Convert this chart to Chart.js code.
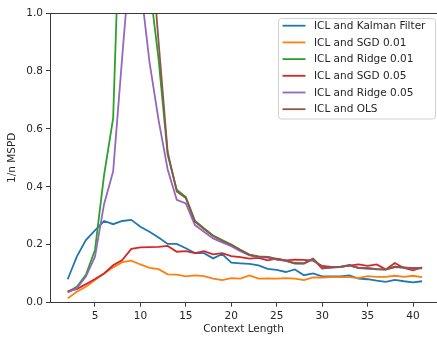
<!DOCTYPE html>
<html>
<head>
<meta charset="utf-8">
<script src="https://cdn.jsdelivr.net/npm/chart.js@4.4.1/dist/chart.umd.min.js"></script>
<style>
  html, body { margin: 0; padding: 0; background: #fff; }
  #wrap { width: 437px; height: 337px; }
</style>
</head>
<body>
<div id="wrap"><canvas id="myChart" width="437" height="337"></canvas></div>
<script>
const contextLength = [2, 3, 4, 5, 6, 7, 8, 9, 10, 11, 12, 13, 14, 15, 16, 17, 18, 19, 20, 21,
                       22, 23, 24, 25, 26, 27, 28, 29, 30, 31, 32, 33, 34, 35, 36, 37, 38, 39, 40, 41];

const kalman = [0.081, 0.159, 0.216, 0.250, 0.282, 0.271, 0.282, 0.286, 0.262, 0.245,
                0.225, 0.203, 0.203, 0.188, 0.171, 0.171, 0.153, 0.168, 0.138, 0.136,
                0.134, 0.129, 0.117, 0.113, 0.106, 0.115, 0.095, 0.101, 0.091, 0.091,
                0.091, 0.094, 0.083, 0.081, 0.076, 0.072, 0.079, 0.074, 0.070, 0.074];
const sgd001 = [0.015, 0.038, 0.055, 0.078, 0.101, 0.122, 0.140, 0.145, 0.132, 0.120,
                0.116, 0.098, 0.097, 0.091, 0.094, 0.092, 0.083, 0.078, 0.085, 0.083,
                0.094, 0.083, 0.084, 0.083, 0.085, 0.083, 0.078, 0.087, 0.087, 0.088,
                0.088, 0.088, 0.085, 0.092, 0.089, 0.089, 0.093, 0.089, 0.093, 0.088];
const ridge001 = [0.037, 0.055, 0.096, 0.182, 0.440, 0.637, 1.600, 2.500, 2.500, 1.100,
                  0.840, 0.510, 0.390, 0.365, 0.283, 0.257, 0.232, 0.216, 0.201, 0.183,
                  0.166, 0.160, 0.158, 0.151, 0.145, 0.137, 0.136, 0.151, 0.120, 0.122,
                  0.124, 0.129, 0.120, 0.119, 0.116, 0.115, 0.124, 0.121, 0.119, 0.120];
const sgd005 = [0.040, 0.047, 0.064, 0.082, 0.101, 0.129, 0.147, 0.186, 0.191, 0.192,
                0.193, 0.196, 0.176, 0.178, 0.171, 0.178, 0.167, 0.171, 0.161, 0.157,
                0.152, 0.155, 0.146, 0.152, 0.146, 0.149, 0.148, 0.145, 0.127, 0.124,
                0.124, 0.128, 0.132, 0.127, 0.132, 0.115, 0.137, 0.120, 0.112, 0.122];
const ridge005 = [0.035, 0.050, 0.090, 0.159, 0.340, 0.453, 0.850, 1.230, 1.100, 0.830,
                  0.630, 0.460, 0.355, 0.343, 0.268, 0.245, 0.222, 0.208, 0.195, 0.178,
                  0.163, 0.157, 0.156, 0.149, 0.144, 0.135, 0.135, 0.150, 0.118, 0.121,
                  0.123, 0.129, 0.119, 0.118, 0.115, 0.114, 0.123, 0.121, 0.118, 0.119];
const ols = [6.0, 6.0, 6.0, 6.0, 6.0, 6.0, 6.0, 6.0, 4.0, 1.300,
             0.900, 0.520, 0.384, 0.361, 0.280, 0.254, 0.230, 0.214, 0.200, 0.182,
             0.165, 0.159, 0.158, 0.150, 0.145, 0.136, 0.136, 0.152, 0.119, 0.122,
             0.124, 0.130, 0.120, 0.119, 0.116, 0.115, 0.124, 0.122, 0.119, 0.120];

const seriesNames = ['ICL and Kalman Filter', 'ICL and SGD 0.01', 'ICL and Ridge 0.01',
                     'ICL and SGD 0.05', 'ICL and Ridge 0.05', 'ICL and OLS'];
const seriesColors = ['#1f77b4', '#ff7f0e', '#2ca02c', '#d62728', '#9467bd', '#8c564b'];
const allSeries = [kalman, sgd001, ridge001, sgd005, ridge005, ols];

const xTicks = [5, 10, 15, 20, 25, 30, 35, 40];
const yTicks = [0, 0.2, 0.4, 0.6, 0.8, 1.0];

const FONT = "'DejaVu Sans', sans-serif";
const TEXT = '#262626';
const AXIS = '#3a3a3a';

// top spine + legend box inside the plot
const extras = {
    id: 'extras',
    afterDraw(chart) {
        const ctx = chart.ctx;
        const a = chart.chartArea;
        ctx.save();
        ctx.strokeStyle = AXIS;
        ctx.lineWidth = 1;
        ctx.beginPath();
        ctx.moveTo(a.left, a.top + 0.5);
        ctx.lineTo(a.right, a.top + 0.5);
        ctx.stroke();

        const bx = 278.5, by = 18.5, bw = 157, bh = 100.5;
        ctx.fillStyle = 'rgba(255,255,255,0.8)';
        ctx.strokeStyle = '#d0d0d0';
        ctx.beginPath();
        ctx.roundRect(bx, by, bw, bh, 3);
        ctx.fill();
        ctx.stroke();

        ctx.font = '10.5px ' + FONT;
        ctx.textBaseline = 'middle';
        ctx.textAlign = 'left';
        chart.data.datasets.forEach((ds, i) => {
            const yy = 25.7 + i * 16.7;
            ctx.strokeStyle = ds.borderColor;
            ctx.lineWidth = 1.8;
            ctx.beginPath();
            ctx.moveTo(282.5, yy);
            ctx.lineTo(305.5, yy);
            ctx.stroke();
            ctx.fillStyle = TEXT;
            ctx.fillText(ds.label, 314, yy + 0.5);
        });
        ctx.restore();
    }
};

document.addEventListener("DOMContentLoaded", function() {
    const ctx = document.getElementById('myChart').getContext('2d');

    const datasets = allSeries.map((vals, i) => ({
        label: seriesNames[i],
        data: contextLength.map((c, j) => ({ x: c, y: vals[j] })),
        borderColor: seriesColors[i],
        backgroundColor: seriesColors[i],
        borderWidth: 1.8,
        pointRadius: 0,
        tension: 0,
        fill: false,
        clip: 0,
        order: allSeries.length - i
    }));

    new Chart(ctx, {
        type: 'line',
        data: { datasets: datasets },
        options: {
            responsive: false,
            animation: false,
            devicePixelRatio: 1,
            layout: { padding: { top: 13, right: 0, left: 0, bottom: 0 } },
            plugins: {
                legend: { display: false },
                tooltip: { enabled: false }
            },
            scales: {
                x: {
                    type: 'linear',
                    min: 0.05,
                    max: 42.64,
                    afterBuildTicks: (s) => { s.ticks = xTicks.map(v => ({ value: v })); },
                    afterFit: (s) => { s.height = 34.3; },
                    grid: { drawOnChartArea: false, drawTicks: true, tickLength: 4, tickColor: AXIS },
                    border: { display: true, color: AXIS, width: 1 },
                    ticks: { color: TEXT, font: { family: FONT, size: 10.5 }, padding: 3, maxRotation: 0 },
                    title: {
                        display: true,
                        text: 'Context Length',
                        color: TEXT,
                        font: { family: FONT, size: 10.5 },
                        padding: { top: 0, bottom: 1 }
                    }
                },
                y: {
                    min: 0,
                    max: 1.0,
                    afterBuildTicks: (s) => { s.ticks = yTicks.map(v => ({ value: v })); },
                    afterFit: (s) => { s.width = 50; },
                    grid: { drawOnChartArea: false, drawTicks: true, tickLength: 4, tickColor: AXIS },
                    border: { display: true, color: AXIS, width: 1 },
                    ticks: {
                        color: TEXT,
                        font: { family: FONT, size: 10.5 },
                        padding: 3,
                        callback: (v) => Number(v).toFixed(1)
                    },
                    title: {
                        display: true,
                        text: '1/n MSPD',
                        color: TEXT,
                        font: { family: FONT, size: 10.5 },
                        padding: { top: 6, bottom: 0 }
                    }
                }
            }
        },
        plugins: [extras]
    });
});
</script>
</body>
</html>
